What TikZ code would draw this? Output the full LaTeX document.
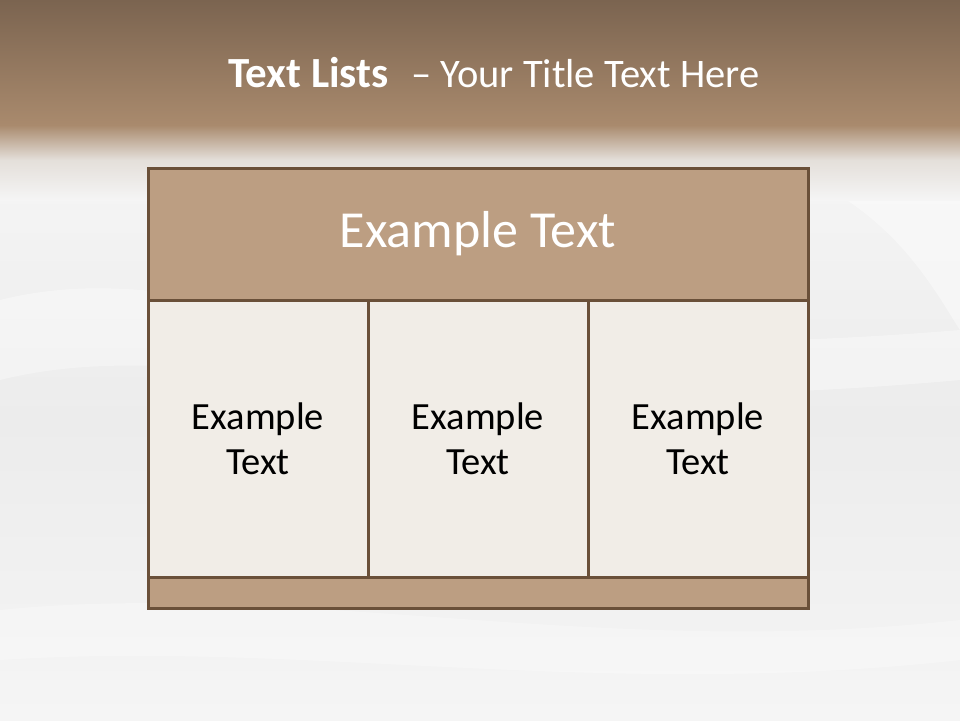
\documentclass[tikz,border=0pt]{standalone}
\usepackage{fontspec}
\setmainfont{Carlito}
\usetikzlibrary{positioning}
\definecolor{bandtop}{HTML}{7B6450}
\definecolor{bandmid}{HTML}{A98A6D}
\definecolor{silk}{HTML}{ECECEC}
\definecolor{silkhi}{HTML}{F5F5F5}
\definecolor{fade}{HTML}{E4DFDA}
\definecolor{hdrfill}{HTML}{BC9E82}
\definecolor{cellfill}{HTML}{F1EDE7}
\definecolor{edge}{HTML}{6A5039}
\tikzset{
  panel/.style={draw=edge, line width=3pt, inner sep=0pt, outer sep=0pt},
  hdrbox/.style={panel, fill=hdrfill, minimum width=660pt, minimum height=132pt,
    font=\fontsize{52}{60}\selectfont, text=white},
  cellbox/.style={panel, fill=cellfill, minimum width=220pt, minimum height=277pt, align=center,
    font=\fontsize{38.5}{45}\selectfont, text=black},
  stripbox/.style={panel, fill=hdrfill, minimum width=660pt, minimum height=31pt},
  titletext/.style={text=white, inner sep=0pt, anchor=base west}
}
\begin{document}
\begin{tikzpicture}[x=1pt,y=-1pt]
\useasboundingbox (0,0) rectangle (960,720);
% background
\fill[silk] (0,0) rectangle (960,720);
\shade[top color=silkhi, bottom color=silk] (0,160) rectangle (960,420);
\shade[top color=silk, bottom color=silkhi] (0,420) rectangle (960,720);
\fill[white, opacity=0.35] (0,300) .. controls (200,250) and (350,380) .. (960,330) -- (960,380) .. controls (400,430) and (200,330) .. (0,380) -- cycle;
\fill[white, opacity=0.3] (0,610) .. controls (300,580) and (600,660) .. (960,620) -- (960,660) .. controls (600,700) and (300,640) .. (0,660) -- cycle;
\fill[white, opacity=0.4] (810,180) .. controls (900,220) and (940,300) .. (960,330) -- (960,200) -- cycle;
\shade[top color=bandtop, bottom color=bandmid] (0,0) rectangle (960,125);
\shade[top color=bandmid, bottom color=fade] (0,125) rectangle (960,160);
\shade[top color=fade, bottom color=silkhi] (0,160) rectangle (960,200);
% title
\node[titletext, font=\fontsize{43}{50}\selectfont\bfseries] (t1) at (228,87) {Text Lists};
\node[titletext, font=\fontsize{40.5}{50}\selectfont] (t2) at (411,87) {– Your Title Text Here};
% table
\node[hdrbox] (hdr) at (478,234) {Example Text};
\node[cellbox] (c1) at (258,438.5) {Example\\Text};
\node[cellbox] (c2) at (478,438.5) {Example\\Text};
\node[cellbox] (c3) at (698,438.5) {Example\\Text};
\node[stripbox] (strip) at (478,592.5) {};
\end{tikzpicture}
\end{document}
